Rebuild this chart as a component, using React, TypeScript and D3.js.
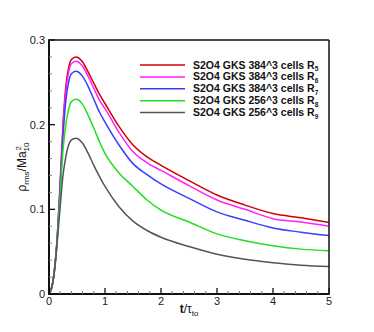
import * as d3 from 'd3'

const times = [0, 0.05, 0.1, 0.15, 0.2, 0.25, 0.3, 0.35, 0.4, 0.48, 0.6, 0.7, 0.8, 0.9, 1.0, 1.25, 1.5, 1.75, 2.0, 2.5, 3.0, 3.5, 4.0, 4.5, 5.0]

const r5 = [0, 0.008, 0.03, 0.07, 0.133, 0.2, 0.245, 0.267, 0.277, 0.28, 0.274, 0.262, 0.249, 0.236, 0.225, 0.198, 0.176, 0.162, 0.152, 0.134, 0.117, 0.105, 0.095, 0.09, 0.0845]
const r6 = [0, 0.008, 0.03, 0.07, 0.13, 0.195, 0.239, 0.262, 0.272, 0.275, 0.269, 0.257, 0.243, 0.229, 0.219, 0.191, 0.168, 0.155, 0.146, 0.128, 0.111, 0.1, 0.089, 0.085, 0.08]
const r7 = [0, 0.008, 0.03, 0.069, 0.126, 0.186, 0.228, 0.25, 0.26, 0.263, 0.257, 0.245, 0.23, 0.215, 0.203, 0.176, 0.154, 0.141, 0.13, 0.113, 0.097, 0.087, 0.078, 0.073, 0.069]
const r8 = [0, 0.008, 0.03, 0.067, 0.117, 0.17, 0.2, 0.218, 0.227, 0.23, 0.224, 0.211, 0.196, 0.18, 0.166, 0.143, 0.127, 0.111, 0.099, 0.085, 0.071, 0.063, 0.057, 0.053, 0.051]
const r9 = [0, 0.008, 0.028, 0.064, 0.103, 0.14, 0.162, 0.176, 0.182, 0.184, 0.178, 0.166, 0.152, 0.139, 0.127, 0.103, 0.086, 0.075, 0.067, 0.056, 0.047, 0.041, 0.037, 0.034, 0.0325]

const seriesNames = ['384^3 cells R', '384^3 cells R', '384^3 cells R', '256^3 cells R', '256^3 cells R']
const seriesSubs = ['5', '6', '7', '8', '9']
const seriesColors = ['#d00000', '#ff22ff', '#3c3cff', '#22dd22', '#555555']
const seriesValues = [r5, r6, r7, r8, r9]

const xTicks = [0, 1, 2, 3, 4, 5]
const yTicks = [0, 0.1, 0.2, 0.3]

const W = 374
const H = 332
const margin = { top: 40, right: 45, bottom: 38, left: 49 }

export default function App() {
  const x = d3.scaleLinear().domain([0, 5]).range([margin.left, W - margin.right])
  const y = d3.scaleLinear().domain([0, 0.3]).range([H - margin.bottom, margin.top])

  const line = d3.line<number>()
    .x((_, i) => x(times[i]))
    .y(d => y(d))
    .curve(d3.curveMonotoneX)

  const xMinor = d3.range(0, 5.001, 0.2).filter(v => Math.abs(v - Math.round(v)) > 0.01)
  const yMinor = d3.range(0, 0.3001, 0.02).filter(v => Math.abs(v * 10 - Math.round(v * 10)) > 0.01)

  const x0 = x(0), x1 = x(5), y0 = y(0), y1 = y(0.3)
  const font = 'Liberation Sans, Arial, Helvetica, sans-serif'

  return (
    <svg width={W} height={H} style={{ position: 'absolute', left: 0, top: 0, background: '#fff' }} fontFamily={font}>
      {/* curves */}
      {seriesValues.map((vals, i) => (
        <path key={i} d={line(vals) || ''} fill="none" stroke={seriesColors[i]} strokeWidth={1.5} />
      ))}

      {/* frame */}
      <line x1={x0} x2={x1} y1={y1} y2={y1} stroke="#111" strokeWidth={1.5} />
      <line x1={x1} x2={x1} y1={y1} y2={y0} stroke="#111" strokeWidth={1.5} />
      <line x1={x0} x2={x0} y1={y1 - 0.75} y2={y0 + 1} stroke="#111" strokeWidth={2} />
      <line x1={x0 - 1} x2={x1 + 0.75} y1={y0} y2={y0} stroke="#111" strokeWidth={2} />

      {/* ticks */}
      {xTicks.map(t => (
        <g key={'xt' + t}>
          <line x1={x(t)} x2={x(t)} y1={y0} y2={y0 - 6} stroke="#111" strokeWidth={1.3} />
          <text x={x(t)} y={y0 + 11} fontSize={11} textAnchor="middle" fill="#222">{t}</text>
        </g>
      ))}
      {xMinor.map(t => (
        <line key={'xm' + t} x1={x(t)} x2={x(t)} y1={y0} y2={y0 - 3} stroke="#777" strokeWidth={1} />
      ))}
      {yTicks.map(t => (
        <g key={'yt' + t}>
          <line x1={x0} x2={x0 + 6} y1={y(t)} y2={y(t)} stroke="#111" strokeWidth={1.3} />
          <text x={x0 - 4} y={y(t) + 4} fontSize={11} textAnchor="end" fill="#222">{t === 0 ? '0' : t.toFixed(1)}</text>
        </g>
      ))}
      {yMinor.map(t => (
        <line key={'ym' + t} x1={x0} x2={x0 + 3} y1={y(t)} y2={y(t)} stroke="#888" strokeWidth={1} />
      ))}

      {/* axis titles */}
      <text x={(x0 + x1) / 2} y={313} fontSize={12} textAnchor="middle" fill="#111">
        <tspan fontWeight="bold">t</tspan>
        <tspan>/τ</tspan>
        <tspan fontSize={8} dy={3}>to</tspan>
      </text>
      <text transform={`translate(26,${(y0 + y1) / 2}) rotate(-90)`} fontSize={12} textAnchor="middle" fill="#111">
        <tspan>ρ</tspan>
        <tspan fontSize={8} dy={3}>rms</tspan>
        <tspan dy={-3}>/Ma</tspan>
        <tspan fontSize={8} dy={3}>10</tspan>
        <tspan fontSize={8} dy={-8} dx={-8}>2</tspan>
      </text>

      {/* legend */}
      {seriesNames.map((n, i) => {
        const ly = 65 + i * 11.9
        return (
          <g key={'lg' + i}>
            <line x1={140} x2={185} y1={ly} y2={ly} stroke={seriesColors[i]} strokeWidth={1.5} />
            <text x={193} y={ly + 3.5} fontSize={10.5} fontWeight="bold" fill="#111">
              <tspan>{'S2O4 GKS ' + n}</tspan>
              <tspan fontSize={6.5} dy={2.5}>{seriesSubs[i]}</tspan>
            </text>
          </g>
        )
      })}
    </svg>
  )
}
